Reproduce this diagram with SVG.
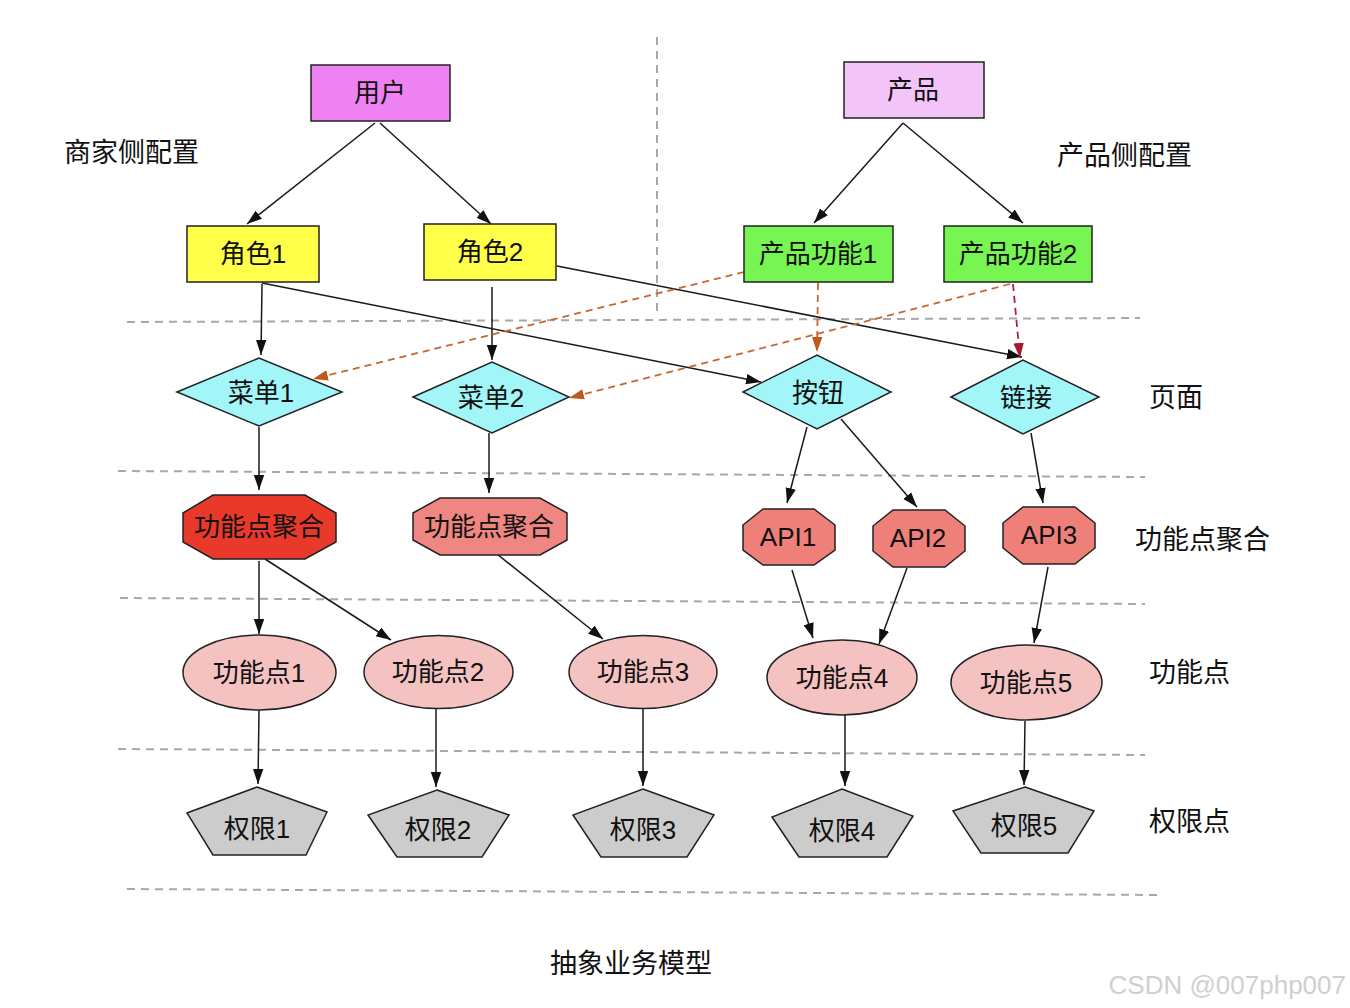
<svg xmlns="http://www.w3.org/2000/svg" width="1350" height="1008" viewBox="0 0 1350 1008">
  <defs>
    <style>
      text { font-family: "Liberation Sans", "Noto Sans CJK SC", sans-serif; font-size: 26px; fill: #111; text-anchor: middle; dominant-baseline: central; }
      .label { text-anchor: start; font-size: 27px; }
      .node { stroke: #222; stroke-width: 1.5; }
      .user { fill: #EE82F2; }
      .product { fill: #F3C4F8; }
      .role { fill: #FFFF4A; }
      .feature { fill: #77F552; }
      .page { fill: #A2F6F8; }
      .agg-hot { fill: #E8392A; }
      .agg { fill: #EF8681; }
      .api { fill: #EE8079; }
      .point { fill: #F5C2C2; }
      .perm { fill: #CCCCCC; }
      .guide { stroke: #A8A8A8; stroke-width: 2; stroke-dasharray: 8 6; fill: none; }
      .edge { stroke: #1a1a1a; stroke-width: 1.5; fill: none; marker-end: url(#arrow); }
      .map { stroke: #C8662E; stroke-width: 1.8; stroke-dasharray: 7 5; fill: none; marker-end: url(#arrow-orange); }
      .map-red { stroke: #B01E3C; stroke-width: 1.8; stroke-dasharray: 7 5; fill: none; marker-end: url(#arrow-red); }
      .watermark { fill: #CFCFCF; font-size: 26px; text-anchor: end; }
    </style>
    <marker id="arrow" markerUnits="userSpaceOnUse" markerWidth="16" markerHeight="12" refX="15" refY="6" orient="auto">
      <path d="M0,0.8 L15,6 L0,11.2 z" fill="#111"/>
    </marker>
    <marker id="arrow-orange" markerUnits="userSpaceOnUse" markerWidth="16" markerHeight="12" refX="15" refY="6" orient="auto">
      <path d="M0,0.8 L15,6 L0,11.2 z" fill="#C0581E"/>
    </marker>
    <marker id="arrow-red" markerUnits="userSpaceOnUse" markerWidth="16" markerHeight="12" refX="15" refY="6" orient="auto">
      <path d="M0,0.8 L15,6 L0,11.2 z" fill="#A8182F"/>
    </marker>
  </defs>

  <rect width="1350" height="1008" fill="#FFFFFF"/>

  <!-- layer separators -->
  <g id="guides">
    <line class="guide" x1="657" y1="37" x2="657" y2="316"/>
    <line class="guide" x1="127" y1="322" x2="1140" y2="318"/>
    <line class="guide" x1="118" y1="471" x2="1145" y2="477"/>
    <line class="guide" x1="120" y1="598" x2="1145" y2="604"/>
    <line class="guide" x1="118" y1="749" x2="1145" y2="755"/>
    <line class="guide" x1="127" y1="889" x2="1160" y2="895"/>
  </g>

  <!-- layer labels -->
  <g id="labels">
    <text class="label" x="64" y="153">商家侧配置</text>
    <text class="label" x="1057" y="156">产品侧配置</text>
    <text class="label" x="1149" y="398">页面</text>
    <text class="label" x="1135" y="540">功能点聚合</text>
    <text class="label" x="1149" y="673">功能点</text>
    <text class="label" x="1149" y="822">权限点</text>
    <text x="631" y="964" style="font-size:27px">抽象业务模型</text>
    <text class="watermark" x="1346" y="985">CSDN @007php007</text>
  </g>

  <!-- connectors -->
  <g id="connectors">
    <line class="edge" x1="375" y1="123" x2="247" y2="224"/>
    <line class="edge" x1="380" y1="123" x2="491" y2="224"/>
    <line class="edge" x1="903" y1="123" x2="814" y2="223"/>
    <line class="edge" x1="903" y1="123" x2="1023" y2="223"/>
    <line class="edge" x1="262" y1="284" x2="261" y2="355"/>
    <line class="edge" x1="262" y1="283" x2="761" y2="382"/>
    <line class="edge" x1="492" y1="287" x2="492" y2="360"/>
    <line class="edge" x1="557" y1="266" x2="1022" y2="357"/>
    <line class="edge" x1="259" y1="427" x2="259" y2="490"/>
    <line class="edge" x1="489" y1="433" x2="489" y2="493"/>
    <line class="edge" x1="807" y1="427" x2="787" y2="503"/>
    <line class="edge" x1="841" y1="419" x2="917" y2="507"/>
    <line class="edge" x1="1031" y1="433" x2="1043" y2="503"/>
    <line class="edge" x1="259" y1="561" x2="259" y2="634"/>
    <line class="edge" x1="265" y1="559" x2="391" y2="640"/>
    <line class="edge" x1="492" y1="550" x2="603" y2="639"/>
    <line class="edge" x1="792" y1="570" x2="813" y2="638"/>
    <line class="edge" x1="907" y1="568" x2="879" y2="644"/>
    <line class="edge" x1="1048" y1="567" x2="1034" y2="643"/>
    <line class="edge" x1="259" y1="710" x2="258" y2="784"/>
    <line class="edge" x1="436" y1="709" x2="436" y2="787"/>
    <line class="edge" x1="643" y1="709" x2="643" y2="786"/>
    <line class="edge" x1="845" y1="715" x2="845" y2="786"/>
    <line class="edge" x1="1025" y1="721" x2="1024" y2="785"/>
    <line class="map" x1="744" y1="272" x2="313" y2="379"/>
    <line class="map" x1="1010" y1="284" x2="569" y2="398"/>
    <line class="map" x1="818" y1="283" x2="817" y2="352"/>
    <line class="map-red" x1="1013" y1="284" x2="1020" y2="358"/>
  </g>

  <!-- roots -->
  <g id="user">
    <rect class="node user" x="311" y="65" width="139" height="56"/>
    <text x="380" y="93">用户</text>
  </g>
  <g id="product">
    <rect class="node product" x="844" y="62" width="140" height="56"/>
    <text x="913" y="90">产品</text>
  </g>

  <!-- roles and product features -->
  <g id="role1">
    <rect class="node role" x="187" y="226" width="132" height="56"/>
    <text x="253" y="254">角色1</text>
  </g>
  <g id="role2">
    <rect class="node role" x="424" y="224" width="132" height="56"/>
    <text x="490" y="252">角色2</text>
  </g>
  <g id="feature1">
    <rect class="node feature" x="744" y="226" width="149" height="56"/>
    <text x="818" y="254">产品功能1</text>
  </g>
  <g id="feature2">
    <rect class="node feature" x="944" y="226" width="148" height="56"/>
    <text x="1018" y="254">产品功能2</text>
  </g>

  <!-- pages -->
  <g id="menu1">
    <polygon class="node page" points="177,392 259,358 342,392 259,426"/>
    <text x="261" y="393">菜单1</text>
  </g>
  <g id="menu2">
    <polygon class="node page" points="413,397 492,362 569,397 492,433"/>
    <text x="491" y="398">菜单2</text>
  </g>
  <g id="button">
    <polygon class="node page" points="743,392 817,355 891,392 817,429"/>
    <text x="818" y="393">按钮</text>
  </g>
  <g id="link">
    <polygon class="node page" points="951,397 1023,360 1099,397 1023,434"/>
    <text x="1026" y="398">链接</text>
  </g>

  <!-- feature aggregates -->
  <g id="aggregate1">
    <polygon class="node agg-hot" points="183,513 213,495 305,495 336,513 336,542 305,559 213,559 183,542"/>
    <text x="259" y="527">功能点聚合</text>
  </g>
  <g id="aggregate2">
    <polygon class="node agg" points="413,513 440,498 540,498 567,513 567,540 540,555 440,555 413,540"/>
    <text x="489" y="527">功能点聚合</text>
  </g>
  <g id="api1">
    <polygon class="node api" points="743,525 763,509 814,509 835,525 835,550 814,565 763,565 743,550"/>
    <text x="788" y="537">API1</text>
  </g>
  <g id="api2">
    <polygon class="node api" points="873,526 893,510 945,510 965,526 965,551 945,567 893,567 873,551"/>
    <text x="918" y="538">API2</text>
  </g>
  <g id="api3">
    <polygon class="node api" points="1003,523 1023,507 1075,507 1095,523 1095,548 1075,564 1023,564 1003,548"/>
    <text x="1049" y="535">API3</text>
  </g>

  <!-- feature points -->
  <g id="point1">
    <ellipse class="node point" cx="259.5" cy="672.5" rx="76.5" ry="37.5"/>
    <text x="259" y="673">功能点1</text>
  </g>
  <g id="point2">
    <ellipse class="node point" cx="438.5" cy="672" rx="74.5" ry="36.5"/>
    <text x="438" y="672">功能点2</text>
  </g>
  <g id="point3">
    <ellipse class="node point" cx="643" cy="672" rx="74" ry="36.5"/>
    <text x="643" y="672">功能点3</text>
  </g>
  <g id="point4">
    <ellipse class="node point" cx="842" cy="677.5" rx="75" ry="37.5"/>
    <text x="842" y="678">功能点4</text>
  </g>
  <g id="point5">
    <ellipse class="node point" cx="1026.5" cy="682.5" rx="75.5" ry="37.5"/>
    <text x="1026" y="683">功能点5</text>
  </g>

  <!-- permissions -->
  <g id="perm1">
    <polygon class="node perm" points="257,787 327,812 306,855 213,855 187,813"/>
    <text x="257" y="829">权限1</text>
  </g>
  <g id="perm2">
    <polygon class="node perm" points="437,790 509,815 482,857 397,857 368,815"/>
    <text x="438" y="830">权限2</text>
  </g>
  <g id="perm3">
    <polygon class="node perm" points="643,789 714,815 687,857 601,857 573,815"/>
    <text x="643" y="830">权限3</text>
  </g>
  <g id="perm4">
    <polygon class="node perm" points="842,789 913,816 887,857 799,857 772,817"/>
    <text x="842" y="831">权限4</text>
  </g>
  <g id="perm5">
    <polygon class="node perm" points="1025,787 1094,811 1068,853 981,853 953,811"/>
    <text x="1024" y="826">权限5</text>
  </g>
</svg>
